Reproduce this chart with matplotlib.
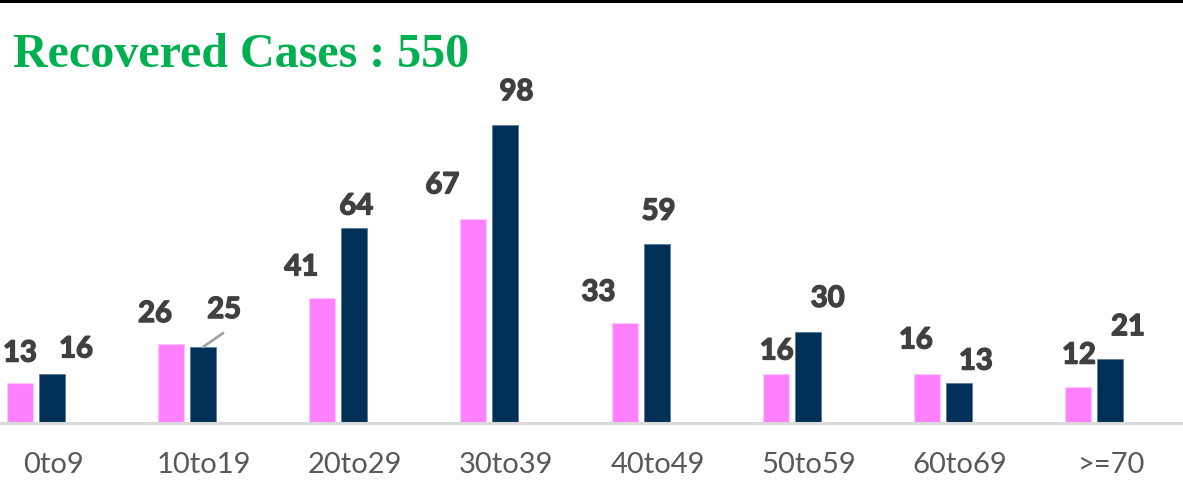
import matplotlib
matplotlib.use("Agg")
import matplotlib.pyplot as plt
import matplotlib.transforms as mtransforms
import matplotlib.patheffects as pe
import numpy as np

categories = ["0to9", "10to19", "20to29", "30to39", "40to49", "50to59", "60to69", ">=70"]
series_a = [13, 26, 41, 67, 33, 16, 16, 12]   # pink
series_b = [16, 25, 64, 98, 59, 30, 13, 21]   # navy
title_text = "Recovered Cases : 550"

# label offsets (pixels) relative to bar top centre
offs_a = [(0, 30), (-16, 30), (-21, 31), (-31, 34), (-26, 30), (1, 23), (-11, 34), (1, 31)]
offs_b = [(24, 25), (21, 37), (2, 22), (11, 33), (2, 32), (20, 33), (17, 22), (18, 32)]

W, H = 1183, 491
fig = plt.figure(figsize=(W / 100, H / 100), dpi=100)
ax_bottom = (H - 423) / H
ax = fig.add_axes([0, ax_bottom, 1, 1 - ax_bottom])

pink = "#FF80FF"
navy = "#003057"
x = np.arange(len(categories))
bw = 0.172
d = 0.106
ba = ax.bar(x - d, series_a, bw, color=pink, edgecolor="#FFC8FF", linewidth=0.8, zorder=3)
bb = ax.bar(x + d, series_b, bw, color=navy, edgecolor="#5A7C99", linewidth=0.6, zorder=3)

ax.set_xlim(-36 / 151.1, 7 + (W - 1094) / 151.1)
ax.set_ylim(0, 423 / 3.04)

lab_font = dict(family=["Lato", "DejaVu Sans"], fontsize=21, fontweight="bold", color="#404040")
for bars, vals, offs in ((ba, series_a, offs_a), (bb, series_b, offs_b)):
    for rect, v, (dx, dy) in zip(bars, vals, offs):
        cx = rect.get_x() + rect.get_width() / 2
        t = ax.annotate(str(v), (cx, v), xytext=(dx, dy), textcoords="offset pixels",
                        ha="center", va="center", **lab_font, zorder=2)
        t.set_path_effects([pe.withStroke(linewidth=1.1, foreground="#404040")])

# leader line for label "25"
r = bb[1]
ax.annotate("", (r.get_x() + r.get_width() / 2, series_b[1]), xytext=(20, 14),
            textcoords="offset pixels",
            arrowprops=dict(arrowstyle="-", color="#A6A6A6", lw=2, shrinkA=0, shrinkB=0))

for s in ["top", "right", "left"]:
    ax.spines[s].set_visible(False)
ax.spines["bottom"].set_color("#D9D9D9")
ax.spines["bottom"].set_linewidth(2.2)
ax.spines["bottom"].set_zorder(4)
ax.set_yticks([])
ax.set_xticks(x)
ax.set_xticklabels(categories, family=["Lato", "DejaVu Sans"], fontsize=21, color="#595959")
ax.tick_params(axis="x", length=0, pad=21)
shift = mtransforms.ScaledTranslation(17 / 100, 0, fig.dpi_scale_trans)
for lbl in ax.get_xticklabels():
    lbl.set_transform(lbl.get_transform() + shift)

fig.text(13 / W, 1 - 67 / H, title_text, family=["Liberation Serif", "DejaVu Serif"],
         fontsize=34.6, fontweight="bold", color="#00B050", ha="left", va="baseline")

fig.add_artist(plt.Line2D([0, 1], [1 - 1 / H, 1 - 1 / H], transform=fig.transFigure,
                          color="black", lw=2.2))

fig.savefig("out.png", dpi=100)
